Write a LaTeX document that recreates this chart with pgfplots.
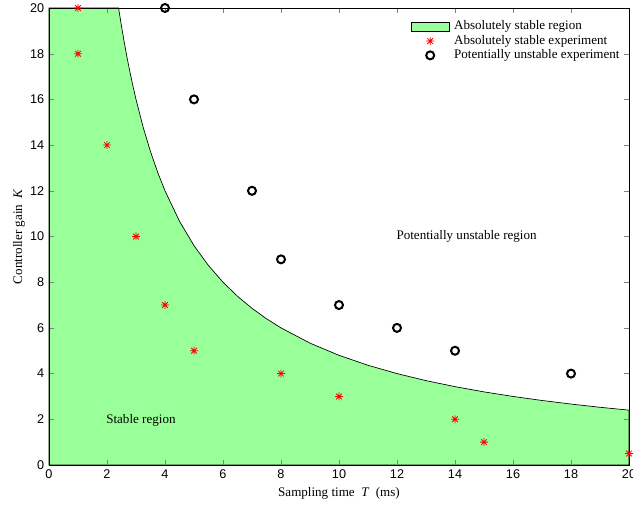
\documentclass[border=0pt]{standalone}
\usepackage{fontspec}
\setmainfont{Liberation Serif}
\setsansfont{Liberation Sans}
\usepackage{pgfplots}
\pgfplotsset{compat=1.18}

% MATLAB-style asterisk: a plus and a cross on top of each other
\pgfdeclareplotmark{mstar}{%
  \pgfpathmoveto{\pgfpoint{-\pgfplotmarksize}{0pt}}%
  \pgfpathlineto{\pgfpoint{\pgfplotmarksize}{0pt}}%
  \pgfpathmoveto{\pgfpoint{0pt}{-\pgfplotmarksize}}%
  \pgfpathlineto{\pgfpoint{0pt}{\pgfplotmarksize}}%
  \pgfpathmoveto{\pgfpoint{-.707\pgfplotmarksize}{-.707\pgfplotmarksize}}%
  \pgfpathlineto{\pgfpoint{.707\pgfplotmarksize}{.707\pgfplotmarksize}}%
  \pgfpathmoveto{\pgfpoint{-.707\pgfplotmarksize}{.707\pgfplotmarksize}}%
  \pgfpathlineto{\pgfpoint{.707\pgfplotmarksize}{-.707\pgfplotmarksize}}%
  \pgfusepathqstroke}

\definecolor{stablegreen}{rgb}{0.6,1,0.6}

\pgfplotsset{
  rect legend/.style={legend image code/.code={%
      \draw[##1] (0pt,-3.4pt) rectangle (28pt,3.4pt);}},
  mark legend/.style={legend image code/.code={%
      \draw[mark repeat=2,mark phase=2,##1]
        plot coordinates {(0pt,0pt)(14pt,0pt)(28pt,0pt)};}},
}

\begin{document}
\begin{tikzpicture}
\begin{axis}[
  name=ax,
  scale only axis,
  width=435pt, height=342.75pt,
  xmin=0, xmax=20, ymin=0, ymax=20,
  xtick={0,2,...,20}, ytick={0,2,...,20},
  tick align=inside,
  major tick length=3.75pt,
  axis on top,
  clip=false,
  font=\fontsize{9.8}{11.5}\selectfont,
  tick label style={font=\sffamily\fontsize{9.5}{11}\selectfont},
  /pgf/number format/assume math mode=true,
  xlabel={Sampling time \ \textit{T}\ \ (ms)},
  ylabel={Controller gain \ \textit{K}},
  xlabel style={yshift=0pt},
  ylabel style={yshift=-3pt},
  legend cell align=left,
  legend style={draw=none, fill=none, inner sep=0pt,
    at={(axis description cs:0.624,0.975)}, anchor=north west,
    column sep=2.5pt,
    nodes={text height=6.4pt, text depth=1.9pt, inner sep=1.2pt},
    font=\fontsize{9.8}{11.5}\selectfont},
]
% region below the boundary K = 48/T
\addplot[fill=stablegreen, draw=black, line width=0.5pt, rect legend]
  coordinates {
  (0,0) (0,20) (2.4,20) (2.5,19.2) (2.6,18.462) (2.7,17.778) (2.8,17.143)
  (2.9,16.552) (3,16) (3.25,14.769) (3.5,13.714) (3.75,12.8) (4,12)
  (4.5,10.667) (5,9.6) (5.5,8.727) (6,8) (6.5,7.385) (7,6.857) (7.5,6.4)
  (8,6) (9,5.333) (10,4.8) (11,4.364) (12,4) (13,3.692) (14,3.429)
  (15,3.2) (16,3) (17,2.824) (18,2.667) (19,2.526) (20,2.4) (20,0)
  } -- cycle;
\addlegendentry{Absolutely stable region}

\addplot[only marks, mark=mstar, mark size=3pt, red, line width=0.6pt,
  mark legend]
  coordinates {
  (1,20) (1,18) (2,14) (3,10) (4,7) (5,5) (8,4) (10,3) (14,2) (15,1) (20,0.5)
  };
\addlegendentry{Absolutely stable experiment}

\addplot[only marks, mark=o, mark size=3pt, black, line width=1.5pt,
  mark legend]
  coordinates {
  (4,20) (5,16) (7,12) (8,9) (10,7) (12,6) (14,5) (18,4)
  };
\addlegendentry{Potentially unstable experiment}

\node at (axis cs:14.4,10) {Potentially unstable region};
\node at (axis cs:3.17,1.97) {Stable region};
\end{axis}
\pgfresetboundingbox
\path (ax.south west) ++(-36.75pt,-30pt) coordinate (bl);
\path (ax.north east) ++(3pt,6pt) coordinate (tr);
\path[use as bounding box] (bl) rectangle (tr);
\end{tikzpicture}
\end{document}
